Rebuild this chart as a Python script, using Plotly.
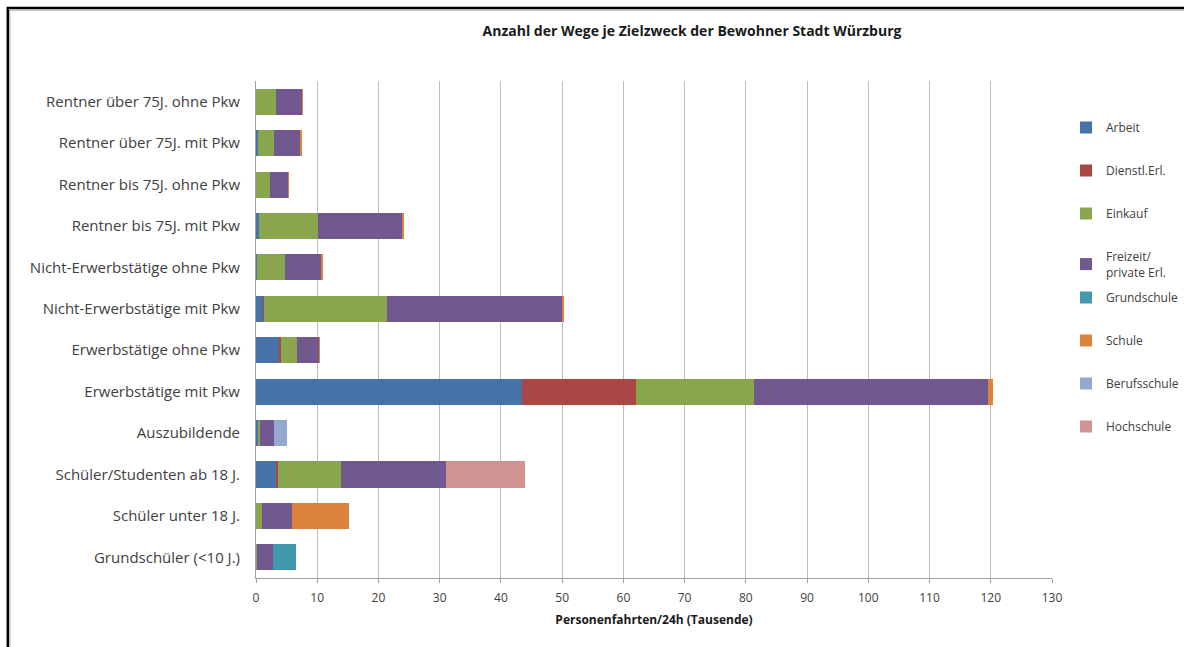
import plotly.graph_objects as go

categories = [
    "Rentner über 75J. ohne Pkw",
    "Rentner über 75J. mit Pkw",
    "Rentner bis 75J. ohne Pkw",
    "Rentner bis 75J. mit Pkw",
    "Nicht-Erwerbstätige ohne Pkw",
    "Nicht-Erwerbstätige mit Pkw",
    "Erwerbstätige ohne Pkw",
    "Erwerbstätige mit Pkw",
    "Auszubildende",
    "Schüler/Studenten ab 18 J.",
    "Schüler unter 18 J.",
    "Grundschüler (<10 J.)",
]

arbeit       = [0.0, 0.3, 0.0, 0.5, 0.2, 1.2, 3.7, 43.5, 0.45, 3.4, 0.0, 0.0]
dienstl      = [0.0, 0.0, 0.0, 0.05, 0.0, 0.05, 0.4, 18.5, 0.0, 0.2, 0.0, 0.0]
einkauf      = [3.25, 2.7, 2.25, 9.5, 4.6, 20.2, 2.6, 19.3, 0.15, 10.2, 0.9, 0.1]
freizeit     = [4.3, 4.3, 3.0, 13.8, 5.95, 28.5, 3.6, 38.2, 2.4, 17.3, 5.0, 2.6]
grundschule  = [0.0, 0.0, 0.0, 0.0, 0.0, 0.0, 0.0, 0.0, 0.0, 0.0, 0.0, 3.9]
schule       = [0.1, 0.1, 0.05, 0.2, 0.1, 0.4, 0.05, 0.8, 0.0, 0.0, 9.3, 0.0]
berufsschule = [0.0, 0.0, 0.0, 0.0, 0.0, 0.0, 0.0, 0.0, 2.0, 0.0, 0.0, 0.0]
hochschule   = [0.0, 0.0, 0.0, 0.0, 0.0, 0.0, 0.0, 0.0, 0.0, 12.8, 0.0, 0.0]

series = [
    ("Arbeit", arbeit, "#4572A7"),
    ("Dienstl.Erl.", dienstl, "#AA4643"),
    ("Einkauf", einkauf, "#89A54E"),
    ("Freizeit/<br>private Erl.", freizeit, "#71588F"),
    ("Grundschule", grundschule, "#4198AF"),
    ("Schule", schule, "#DB843D"),
    ("Berufsschule", berufsschule, "#93A9CF"),
    ("Hochschule", hochschule, "#D19392"),
]

x_ticks = list(range(0, 131, 10))

FONT = "'Open Sans', sans-serif"

fig = go.Figure()
for i, (name, vals, col) in enumerate(series):
    fig.add_trace(go.Bar(
        y=categories, x=vals, name=name, orientation="h",
        marker=dict(color=col, line=dict(width=0)),
        legendgroup=f"g{i}",
        legend="legend" if i < 4 else "legend2",
    ))

L, R, T, B = 256, 1052, 81, 578
W, H = 1184, 647
pw, ph = R - L, B - T

def px(xp):
    return (xp - L) / pw

def py(yp):
    return (B - yp) / ph

legend_common = dict(
    xanchor="left", yanchor="top",
    traceorder="grouped", tracegroupgap=24,
    font=dict(family=FONT, size=12, color="#404040"),
    itemwidth=30, bgcolor="rgba(0,0,0,0)",
)

fig.update_layout(
    width=W, height=H,
    margin=dict(l=L, r=W - R, t=T, b=H - B, autoexpand=False),
    barmode="stack",
    bargap=0.37,
    plot_bgcolor="white",
    paper_bgcolor="white",
    font=dict(family=FONT, size=13, color="#404040"),
    title=dict(
        text="<b>Anzahl der Wege je Zielzweck der Bewohner Stadt Würzburg</b>",
        x=692 / W, xanchor="center", y=1 - 31 / H, yanchor="middle",
        font=dict(family=FONT, size=14, color="#1a1a1a"),
    ),
    xaxis=dict(
        range=[0, 130], tickvals=x_ticks, ticktext=[str(v) for v in x_ticks],
        showgrid=True, gridcolor="#BEBEBE", gridwidth=1,
        showline=True, linecolor="#A0A0A0", linewidth=1,
        ticks="outside", ticklen=4, tickcolor="#A0A0A0",
        ticklabelstandoff=5,
        zeroline=False,
        tickfont=dict(family=FONT, size=12, color="#404040"),
        title=dict(text="<b>Personenfahrten/24h (Tausende)</b>",
                   font=dict(family=FONT, size=12, color="#1a1a1a"), standoff=10),
    ),
    yaxis=dict(
        categoryorder="array", categoryarray=categories, autorange="reversed",
        showline=True, linecolor="#A0A0A0", linewidth=1,
        ticks="", ticklabelstandoff=12,
        tickfont=dict(family=FONT, size=15, color="#404040"),
    ),
    legend=dict(x=px(1066), y=py(113), **legend_common),
    legend2=dict(x=px(1066), y=py(283), **legend_common),
    showlegend=True,
)

shapes = [
    dict(type="line", xref="paper", yref="paper", x0=px(7), x1=px(W + 5), y0=py(8), y1=py(8),
         line=dict(color="black", width=2.5)),
    dict(type="line", xref="paper", yref="paper", x0=px(9), x1=px(W + 5), y0=py(10.2), y1=py(10.2),
         line=dict(color="#B0B0B0", width=1.2)),
    dict(type="line", xref="paper", yref="paper", x0=px(7.8), x1=px(7.8), y0=py(7), y1=py(H + 5),
         line=dict(color="black", width=2.5)),
    dict(type="line", xref="paper", yref="paper", x0=px(9.8), x1=px(9.8), y0=py(10), y1=py(H + 5),
         line=dict(color="#B0B0B0", width=1.2)),
]
fig.update_layout(shapes=shapes)

fig.write_html("out.html")
